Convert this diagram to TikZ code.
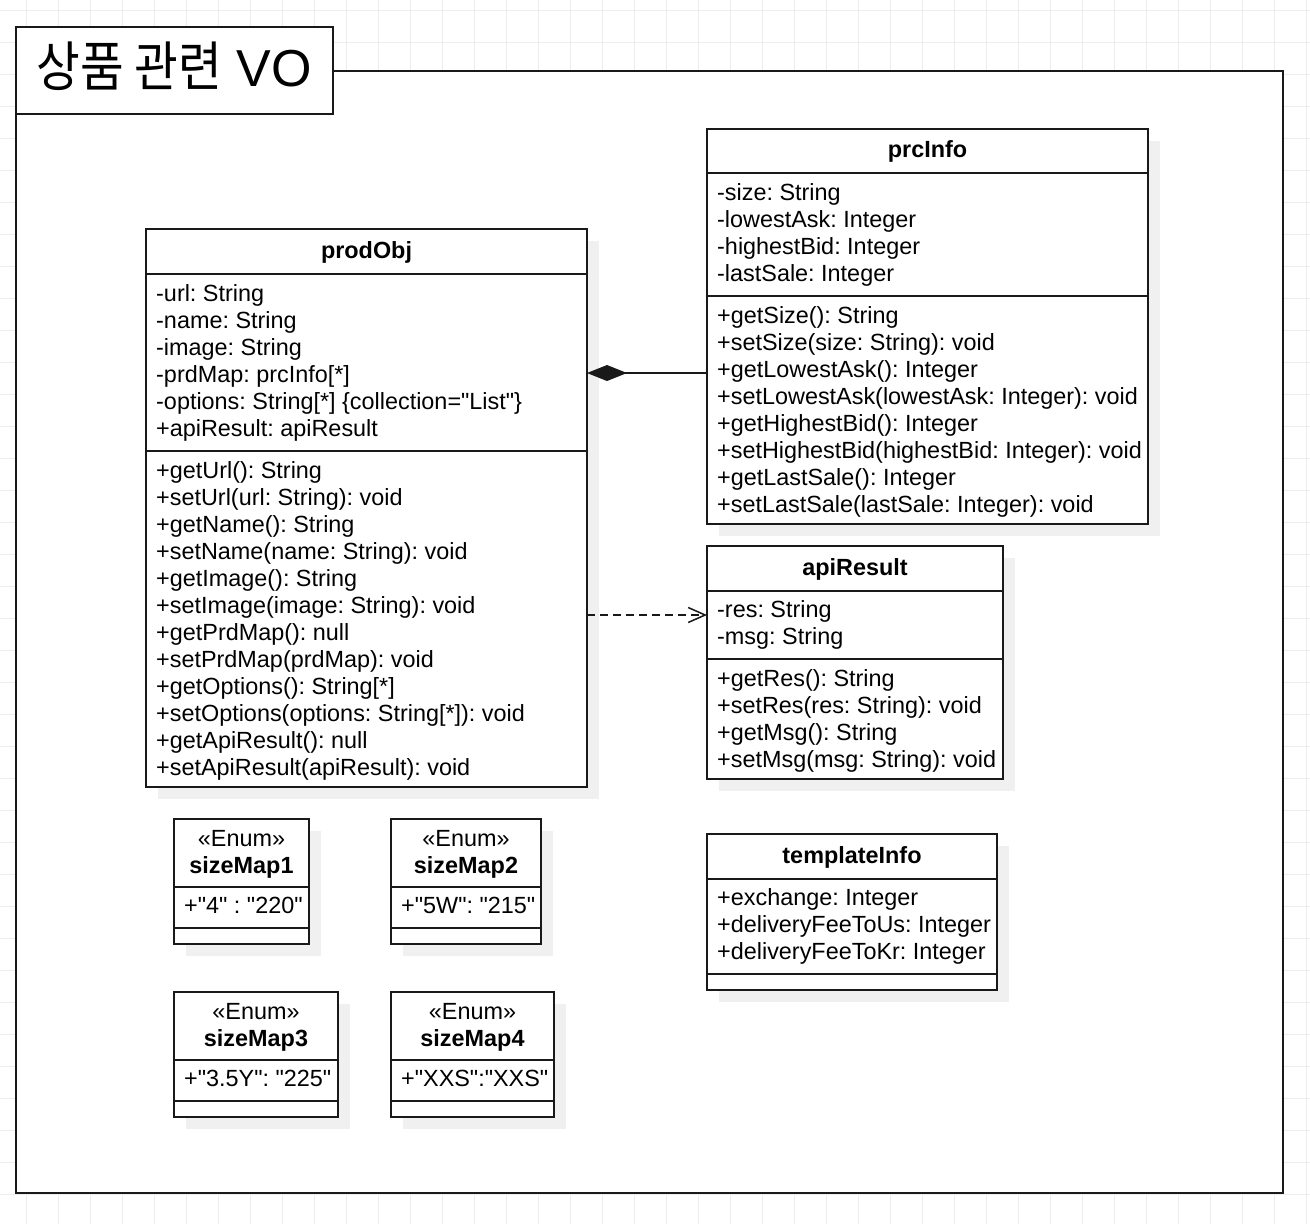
\documentclass[tikz,border=0pt]{standalone}
\usepackage{fontspec}
\setmainfont{Liberation Sans}[Ligatures=TeXOff]
\newfontfamily\cjk[FakeStretch=0.88]{Noto Sans CJK KR}
\usetikzlibrary{arrows.meta, shadows}

\tikzset{
  gridline/.style={draw=black!7, line width=1pt},
  pkgframe/.style={draw=black!90, line width=2pt, fill=white},
  umlpart/.style={draw=black!90, line width=1.5pt, fill=white, inner sep=0pt, outer sep=0pt,
    anchor=north west,
    drop shadow={shadow xshift=12pt, shadow yshift=-12pt, fill=black!6, draw=none, opacity=1}},
  classname/.style={font=\bfseries\fontsize{23.4}{27}\selectfont, text height=17pt, text depth=4pt},
  member/.style={font=\fontsize{23.4}{27}\selectfont, inner sep=0pt, anchor=base west},
  compose/.style={draw=black!90, line width=1.5pt, -{Diamond[length=40pt, width=16pt]}},
  depend/.style={draw=black!90, line width=1.5pt, dash pattern=on 8pt off 5pt,
    -{Straight Barb[length=17pt, width=15pt]}},
}

\begin{document}
\frenchspacing
\begin{tikzpicture}[x=1pt, y=-1pt]
  \useasboundingbox (0,0) rectangle (1310,1224);
  % background grid
  \foreach \gx in {26,58,...,1306} \draw[gridline] (\gx,0) -- (\gx,1224);
  \foreach \gy in {10,42,...,1194} \draw[gridline] (0,\gy) -- (1310,\gy);

  % package frame and its tab
  \draw[pkgframe] (16,71) rectangle (1283,1193);
  \node (title) [draw=black!90, line width=2pt, fill=white, inner sep=0pt, outer sep=0pt,
    anchor=north west, minimum width=317pt, minimum height=87pt,
    text height=36pt, text depth=5pt, font=\fontsize{52}{56}\selectfont]
    at (16,27) {{\cjk\fontsize{54}{56}\selectfont 상품 관련} VO};

  % prodObj
  \node (prodObj) [umlpart, classname, minimum width=441pt, minimum height=45pt] at (146,229) {prodObj};
  \node (prodObjAttr) [umlpart, minimum width=441pt, minimum height=177pt] at (prodObj.south west) {};
  \node (prodObjOps) [umlpart, minimum width=441pt, minimum height=336pt] at (prodObjAttr.south west) {};
  \foreach \m [count=\i from 0] in {-url: String, -name: String, -image: String,
      -prdMap: prcInfo[*], {-options: String[*] \{collection="List"\}}, +apiResult: apiResult}
    \node (prodObjA\i) [member] at (156,{301+27*\i}) {\m};
  \foreach \m [count=\i from 0] in {+getUrl(): String, +setUrl(url: String): void,
      +getName(): String, +setName(name: String): void, +getImage(): String,
      +setImage(image: String): void, +getPrdMap(): null, +setPrdMap(prdMap): void,
      +getOptions(): String[*], +setOptions(options: String[*]): void,
      +getApiResult(): null, +setApiResult(apiResult): void}
    \node (prodObjM\i) [member] at (156,{478+27*\i}) {\m};

  % prcInfo
  \node (prcInfo) [umlpart, classname, minimum width=441pt, minimum height=44pt] at (707,129) {prcInfo};
  \node (prcInfoAttr) [umlpart, minimum width=441pt, minimum height=123pt] at (prcInfo.south west) {};
  \node (prcInfoOps) [umlpart, minimum width=441pt, minimum height=228pt] at (prcInfoAttr.south west) {};
  \foreach \m [count=\i from 0] in {-size: String, -lowestAsk: Integer, -highestBid: Integer,
      -lastSale: Integer}
    \node (prcInfoA\i) [member] at (717,{200+27*\i}) {\m};
  \foreach \m [count=\i from 0] in {+getSize(): String, +setSize(size: String): void,
      +getLowestAsk(): Integer, +setLowestAsk(lowestAsk: Integer): void,
      +getHighestBid(): Integer, +setHighestBid(highestBid: Integer): void,
      +getLastSale(): Integer, +setLastSale(lastSale: Integer): void}
    \node (prcInfoM\i) [member] at (717,{323+27*\i}) {\m};

  % apiResult
  \node (apiResult) [umlpart, classname, minimum width=296pt, minimum height=45pt] at (707,546) {apiResult};
  \node (apiResultAttr) [umlpart, minimum width=296pt, minimum height=68pt] at (apiResult.south west) {};
  \node (apiResultOps) [umlpart, minimum width=296pt, minimum height=120pt] at (apiResultAttr.south west) {};
  \foreach \m [count=\i from 0] in {-res: String, -msg: String}
    \node (apiResultA\i) [member] at (717,{617+27*\i}) {\m};
  \foreach \m [count=\i from 0] in {+getRes(): String, +setRes(res: String): void,
      +getMsg(): String, +setMsg(msg: String): void}
    \node (apiResultM\i) [member] at (717,{686+27*\i}) {\m};

  % templateInfo
  \node (templateInfo) [umlpart, classname, minimum width=290pt, minimum height=45pt] at (707,834) {templateInfo};
  \node (templateInfoAttr) [umlpart, minimum width=290pt, minimum height=95pt] at (templateInfo.south west) {};
  \node (templateInfoOps) [umlpart, minimum width=290pt, minimum height=16pt] at (templateInfoAttr.south west) {};
  \foreach \m [count=\i from 0] in {+exchange: Integer, +deliveryFeeToUs: Integer,
      +deliveryFeeToKr: Integer}
    \node (templateInfoA\i) [member] at (717,{905+27*\i}) {\m};

  % size enums
  \foreach \nm/\x/\y/\w/\val in {sizeMap1/174/819/135/{+"4" : "220"},
      sizeMap2/391/819/150/{+"5W": "215"}, sizeMap3/174/992/164/{+"3.5Y": "225"},
      sizeMap4/391/992/163/{+"XXS":"XXS"}} {
    \node (\nm) [umlpart, minimum width=\w, minimum height=68pt] at (\x,\y) {};
    \node (\nm-attr) [umlpart, minimum width=\w, minimum height=41pt] at (\nm.south west) {};
    \node (\nm-ops) [umlpart, minimum width=\w, minimum height=16pt] at (\nm-attr.south west) {};
    \node (\nm-tag) [member, anchor=base] at ({\x+\w/2},{\y+27}) {«Enum»};
    \node (\nm-name) [member, anchor=base] at ({\x+\w/2},{\y+54}) {\bfseries\nm};
    \node (\nm-val) [member] at ({\x+10},{\y+94}) {\val};
  }

  % relations
  \draw[compose] (prcInfoOps.west |- 0,373) -- (prodObjAttr.east |- 0,373);
  \draw[depend] (prodObjOps.east |- 0,615) -- (apiResultAttr.west |- 0,615);
\end{tikzpicture}
\end{document}
